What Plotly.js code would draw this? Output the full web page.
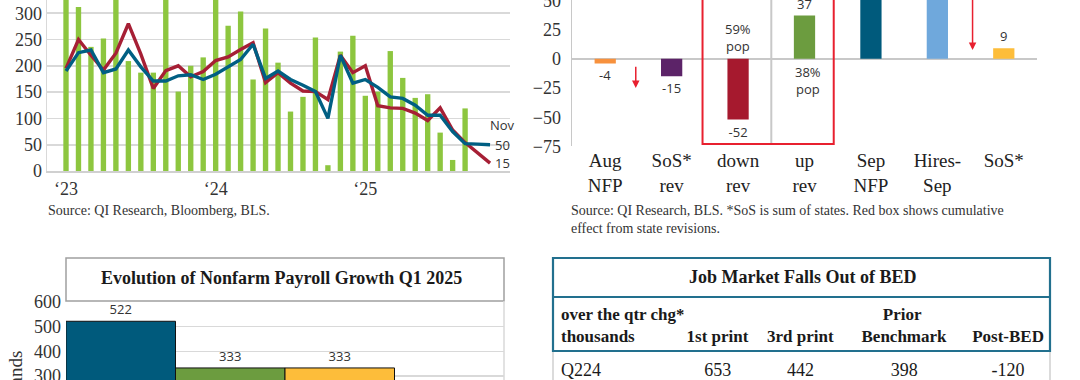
<!DOCTYPE html>
<html><head><meta charset="utf-8">
<script src="https://cdn.plot.ly/plotly-3.0.1.min.js"></script>
<style>html,body{margin:0;padding:0;background:#fff}#chart{width:1080px;height:380px}</style>
</head><body><div id="chart"></div>
<script>
// ---------- Chart A: monthly payrolls (thousands) ----------
const months = ['Jan-23','Feb-23','Mar-23','Apr-23','May-23','Jun-23','Jul-23','Aug-23','Sep-23','Oct-23','Nov-23','Dec-23',
  'Jan-24','Feb-24','Mar-24','Apr-24','May-24','Jun-24','Jul-24','Aug-24','Sep-24','Oct-24','Nov-24','Dec-24',
  'Jan-25','Feb-25','Mar-25','Apr-25','May-25','Jun-25','Jul-25','Aug-25','Sep-25','Oct-25','Nov-25'];
const nfpMonths = ['Jan-23','Feb-23','Mar-23','Apr-23','May-23','Jun-23','Jul-23','Aug-23','Sep-23','Oct-23','Nov-23','Dec-23',
  'Jan-24','Feb-24','Mar-24','Apr-24','May-24','Jun-24','Jul-24','Aug-24','Sep-24','Oct-24','Nov-24','Dec-24',
  'Jan-25','Feb-25','Mar-25','Apr-25','May-25','Jun-25','Jul-25','Aug-25','Sep-25'];
const nfpChange = [472,312,236,252,340,209,187,187,345,151,200,216,
  340,276,303,174,271,206,113,141,254,11,227,257,
  143,151,228,177,139,146,73,21,119];
const avgRed = [195,250,220,192,224,280,222,157,191,200,179,189,
  210,217,231,244,168,187,167,152,151,136,220,187,
  200,124,120,119,110,96,120,78,54,35,15];
const avgTeal = [190,225,230,187,194,230,198,171,171,181,183,174,
  184,198,212,241,176,190,174,163,151,100,220,167,
  174,159,141,138,125,106,106,75,52,51,50];
const yearTickVals = ['Jan-23','Jan-24','Jan-25'];
const yearTickText = ['\u201823','\u201824','\u201825'];
const lastMonthLabel = 'Nov';

// ---------- Chart B: payroll revision bridge ----------
const bCats = ['Aug<br>NFP','SoS*<br>rev','down<br>rev','up<br>rev','Sep<br>NFP','Hires-<br>Sep','SoS*'];
const bVals = [-4,-15,-52,37,119,110,9];
const bColors = ['#F7913D','#5C2368','#A6192E','#6C9C3F','#005A7C','#6FA8DC','#FDBD3A'];
const popShares = ['59%','38%'];
const bRangeTop = 50.3;

// ---------- Chart C: evolution of NFP growth Q1 2025 ----------
const cCats = [0,1,2];
const cVals = [522,333,333];
const cColors = ['#005A7C','#6C9C3F','#FDBD3A'];

// ---------- Table D ----------
const tHeader = ['over the qtr chg*<br>thousands','\u00a0<br>1st print','\u00a0<br>3rd print',
  '\u00a0\u00a0\u00a0\u00a0\u00a0Prior<br>Benchmark','\u00a0<br>Post-BED'];
const tRowLabels = ['Q224'];
const tFirstPrint = [653];
const tThirdPrint = [442];
const tPriorBench = [398];
const tPostBED = [-120];

const SERIF = 'Liberation Serif, Times New Roman, serif';
const SANS = 'Open Sans, Lato, sans-serif';
const px = v => v/1080;
const py = v => 1 - v/380;

const traces = [
  {type:'bar', x:nfpMonths, y:nfpChange, xaxis:'x', yaxis:'y', width:0.43,
   marker:{color:'#8DC63F'}, hoverinfo:'skip'},
  {type:'scatter', mode:'lines', x:months, y:avgRed, xaxis:'x', yaxis:'y',
   line:{color:'#A61F35', width:3.4}, hoverinfo:'skip'},
  {type:'scatter', mode:'lines', x:months, y:avgTeal, xaxis:'x', yaxis:'y',
   line:{color:'#005F83', width:3.4}, hoverinfo:'skip'},
  {type:'bar', x:bCats, y:bVals, xaxis:'x2', yaxis:'y2', width:0.32,
   marker:{color:bColors}, text:bVals.map(v => v <= bRangeTop ? String(v) : ''), textposition:'outside',
   textfont:{family:SANS, size:13, color:'#333'}, hoverinfo:'skip'},
  {type:'bar', x:cCats, y:cVals, xaxis:'x3', yaxis:'y3', width:1,
   marker:{color:cColors, line:{color:'#111', width:1}}, text:cVals.map(String), textposition:'outside',
   textfont:{family:SANS, size:13, color:'#333'}, hoverinfo:'skip'},
  {type:'table', domain:{x:[px(553),px(1058)], y:[0, py(297)]},
   columnwidth:[131,68,98,110,98],
   header:{values:tHeader.map(h => '<b>'+h+'</b>'), height:54,
     align:['left','center','center','center','center'],
     line:{color:'rgba(0,0,0,0)', width:0}, fill:{color:'rgba(0,0,0,0)'},
     font:{family:SERIF, size:17, color:'#1a1a1a'}},
   cells:{values:[tRowLabels,tFirstPrint,tThirdPrint,tPriorBench,tPostBED], height:42,
     align:['left','center','center','center','center'],
     line:{color:'rgba(0,0,0,0)', width:0}, fill:{color:'rgba(0,0,0,0)'},
     font:{family:SERIF, size:18, color:'#1a1a1a'}}}
];

const tickFont = {family:SERIF, size:18, color:'#333'};

const layout = {
  width:1080, height:380, margin:{l:0,r:0,t:0,b:0}, showlegend:false,
  paper_bgcolor:'#fff', plot_bgcolor:'rgba(0,0,0,0)',
  font:{family:SERIF, color:'#333'},
  xaxis:{domain:[px(47),px(510)], anchor:'y', type:'category', categoryorder:'array', categoryarray:months,
    range:[-1.524,35.6], tickvals:yearTickVals, ticktext:yearTickText, tickfont:tickFont,
    showgrid:false, zeroline:false, showline:true, linecolor:'#D0D0D0', linewidth:2, ticks:'', ticklabelstandoff:0},
  yaxis:{domain:[py(171),1], anchor:'x', range:[0,325.1], dtick:50, tick0:0, tickfont:tickFont, ticklabeloverflow:'allow',
    showgrid:true, gridcolor:'#D9D9D9', gridwidth:1.6, zeroline:false, showline:true, linecolor:'#D9D9D9', linewidth:1.5, ticks:''},
  xaxis2:{domain:[px(572),px(1037)], anchor:'y2', type:'category', range:[-0.5,6.5],
    tickfont:{family:SERIF, size:19, color:'#222'}, showgrid:false, zeroline:false, showline:false, ticks:'', ticklabelstandoff:1},
  yaxis2:{domain:[py(146.4),1], anchor:'x2', range:[-75,bRangeTop], dtick:25, tick0:0, tickfont:tickFont, ticklabeloverflow:'allow',
    showgrid:false, zeroline:true, zerolinecolor:'#C8C8C8', zerolinewidth:2,
    showline:true, linecolor:'#C8C8C8', linewidth:1.5, ticks:'', ticklabelstandoff:6},
  xaxis3:{domain:[px(66),px(504)], anchor:'y3', range:[-0.5,3.5], showticklabels:false,
    showgrid:false, zeroline:false, showline:false, ticks:''},
  yaxis3:{domain:[0,py(302)], anchor:'x3', range:[284.2,600], dtick:100, tick0:0, tickfont:tickFont, ticklabeloverflow:'allow',
    showgrid:true, gridcolor:'#D9D9D9', gridwidth:1.5, zeroline:false, showline:false, ticks:'', ticklabelstandoff:4},
  shapes:[
    {type:'line', xref:'x2', yref:'y2', x0:2.5, x1:2.5, y0:-73, y1:60, line:{color:'#C8C8C8', width:2}},
    {type:'rect', xref:'x2', yref:'y2', x0:1.465, x1:3.44, y0:-73, y1:60, line:{color:'#E8202F', width:2}},
    {type:'rect', xref:'paper', yref:'paper', x0:px(66), x1:px(504), y0:py(301), y1:py(258),
      line:{color:'#A0A0A0', width:1.5}, fillcolor:'#fff'},
    {type:'line', xref:'paper', yref:'paper', x0:px(504), x1:px(504), y0:0, y1:py(301), line:{color:'#D9D9D9', width:1.5}},
    {type:'rect', xref:'paper', yref:'paper', x0:px(553), x1:px(1050), y0:py(351), y1:py(258),
      line:{color:'#22708E', width:2.2}},
    {type:'line', xref:'paper', yref:'paper', x0:px(553), x1:px(1050), y0:py(297), y1:py(297), line:{color:'#22708E', width:2.2}},
    {type:'line', xref:'paper', yref:'paper', x0:px(553), x1:px(553), y0:0, y1:py(352), line:{color:'#CFCFCF', width:1.5}},
    {type:'line', xref:'paper', yref:'paper', x0:px(1050), x1:px(1050), y0:0, y1:py(352), line:{color:'#CFCFCF', width:1.5}}
  ],
  annotations:[
    {xref:'x', yref:'y', x:35, y:87, xanchor:'center', yanchor:'middle', text:lastMonthLabel, showarrow:false, font:{family:SANS, size:13, color:'#333'}},
    {xref:'x', yref:'y', x:35, y:avgTeal[avgTeal.length-1], xanchor:'center', yanchor:'middle', text:String(avgTeal[avgTeal.length-1]), showarrow:false, font:{family:SANS, size:13, color:'#333'}},
    {xref:'x', yref:'y', x:35, y:avgRed[avgRed.length-1], xanchor:'center', yanchor:'middle', text:String(avgRed[avgRed.length-1]), showarrow:false, font:{family:SANS, size:13, color:'#333'}},
    {xref:'paper', yref:'paper', x:px(46), y:py(211), xanchor:'left', yanchor:'middle', showarrow:false,
      text:'Source: QI Research, Bloomberg, BLS.', font:{family:SERIF, size:14, color:'#333'}},
    {xref:'x2', yref:'y2', x:2, y:18, xanchor:'center', yanchor:'middle', text:popShares[0]+'<br>pop', showarrow:false, font:{family:SANS, size:13, color:'#333'}},
    {xref:'x2', yref:'y2', x:3.06, y:-19, xanchor:'center', yanchor:'middle', text:popShares[1]+'<br>pop', showarrow:false, font:{family:SANS, size:13, color:'#333'}},
    {xref:'x2', yref:'y2', axref:'x2', ayref:'y2', x:0.46, y:-25, ax:0.46, ay:-5.5, showarrow:true,
      arrowhead:2, arrowsize:1, arrowwidth:1.5, arrowcolor:'#E8202F', text:''},
    {xref:'x2', yref:'y2', axref:'x2', ayref:'y2', x:5.53, y:7.5, ax:5.53, ay:60, showarrow:true,
      arrowhead:2, arrowsize:1, arrowwidth:1.5, arrowcolor:'#E8202F', text:''},
    {xref:'paper', yref:'paper', x:px(569), y:py(219.5), xanchor:'left', yanchor:'middle', align:'left', showarrow:false,
      text:'Source: QI Research, BLS. *SoS is sum of states. Red box shows cumulative<br>effect from state revisions.',
      font:{family:SERIF, size:14, color:'#333'}},
    {xref:'paper', yref:'paper', x:px(281), y:py(278), xanchor:'center', yanchor:'middle', showarrow:false,
      text:'<b>Evolution of Nonfarm Payroll Growth Q1 2025</b>', font:{family:SERIF, size:18, color:'#1a1a1a'}},
    {xref:'paper', yref:'paper', x:px(15), y:py(392), xanchor:'center', yanchor:'middle', textangle:-90, showarrow:false,
      text:'Thousands', font:{family:SERIF, size:19, color:'#333'}},
    {xref:'paper', yref:'paper', x:px(803), y:py(277), xanchor:'center', yanchor:'middle', showarrow:false,
      text:'<b>Job Market Falls Out of BED</b>', font:{family:SERIF, size:18, color:'#1a1a1a'}}
  ]
};

Plotly.newPlot('chart', traces, layout, {staticPlot:true, displayModeBar:false});
</script></body></html>
